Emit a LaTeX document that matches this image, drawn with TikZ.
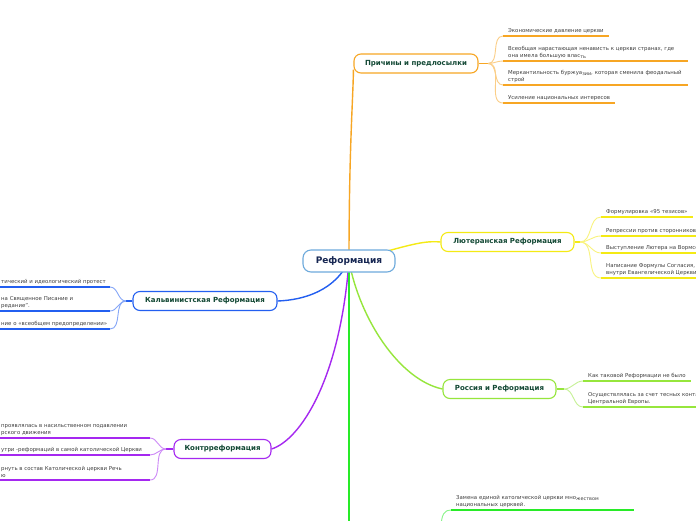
\documentclass[tikz,border=0pt]{standalone}
\usepackage{fontspec}
\setmainfont{DejaVu Sans}
\usetikzlibrary{backgrounds}

\definecolor{corange}{RGB}{247,166,36}
\definecolor{cyellow}{RGB}{244,234,20}
\definecolor{cblue}{RGB}{35,95,240}
\definecolor{cpurple}{RGB}{165,40,240}
\definecolor{clime}{RGB}{150,230,60}
\definecolor{cgreen}{RGB}{40,235,40}
\definecolor{cmain}{RGB}{110,170,220}
\definecolor{ctext}{RGB}{18,72,52}
\definecolor{cnavy}{RGB}{22,38,82}
\definecolor{cleaf}{RGB}{64,64,64}

\newcommand{\lowbit}[1]{\raisebox{-1.2pt}{\fontsize{4.9}{5}\selectfont #1}}

\begin{document}
\begin{tikzpicture}[x=1pt, y=-1pt,
  mtopic/.style={draw=cmain, line width=1.1pt, rounded corners=8pt, fill=white,
    minimum width=92pt, minimum height=22pt, inner sep=0pt,
    font=\fontsize{9}{11}\selectfont\bfseries, text=cnavy},
  btopic/.style={draw=#1, line width=1.1pt, rounded corners=7pt, fill=white,
    minimum height=19pt, inner xsep=6pt, inner ysep=0pt,
    font=\fontsize{7}{9}\selectfont\bfseries, text=ctext},
  leaf/.style={anchor=south west, inner xsep=5pt, inner ysep=2pt, align=left,
    font=\fontsize{5.4}{7}\selectfont, text=cleaf},
  branch/.style={draw=#1, line width=1.4pt},
  twig/.style={draw=#1!55!white, line width=0.9pt},
  uline/.style={draw=#1, line width=1.5pt},
]
  \useasboundingbox (0,0) rectangle (696,520);
  \coordinate (rim) at (696,0);
  \coordinate (lrim) at (-4,0);

  % Central topic and main branches
  \node[mtopic] (R) at (349,261) {Реформация};
  \node[btopic=corange, minimum width=124pt] (P) at (416,63.5) {Причины и предлосылки};
  \node[btopic=cyellow, minimum width=133pt] (L) at (507.5,242) {Лютеранская Реформация};
  \node[btopic=cblue, minimum width=144pt] (K) at (205,301) {Кальвинистская Реформация};
  \node[btopic=cpurple, minimum width=97pt] (C) at (222.5,449) {Контрреформация};
  \node[btopic=clime, minimum width=113pt] (Ru) at (499.5,389) {Россия и Реформация};
  \coordinate (Nb) at (349,530);

  \begin{scope}[on background layer]
    \fill[white] (0,0) rectangle (696,520);
    \draw[branch=corange] (R.center) .. controls (349,150) and (353,100) .. ([yshift=4pt]P.south west);
    \draw[branch=cyellow] (R.center) .. controls (402,248) and (420,240) .. (L.west);
    \draw[branch=cblue] (R.center) .. controls (335,290) and (305,300) .. (K.east);
    \draw[branch=cpurple] (R.center) .. controls (340,380) and (300,440) .. (C.east);
    \draw[branch=clime] (R.center) .. controls (360,320) and (400,380) .. (Ru.west);
    \draw[branch=cgreen] (R.center) -- (Nb);
  \end{scope}

  % Causes
  \coordinate (Pf) at (488,63.5);
  \draw[branch=corange] (P.east) -- (Pf);
  \node[leaf] (P1) at (503,36) {Экономические давление церкви};
  \node[leaf, text width=175pt] (P2) at (503,61) {Всеобщая нарастающая ненависть к церкви странах, где\\она имела большую влас\lowbit{ть}};
  \node[leaf, text width=175pt] (P3) at (503,85) {Меркантильность буржуа\lowbit{зии}, которая сменила феодальный\\строй};
  \node[leaf] (P4) at (503,103) {Усиление национальных интересов};
  \foreach \n in {1,...,4} {
    \draw[twig=corange] (Pf) to[out=0,in=180] (P\n.south west);
    \draw[uline=corange] (P\n.south west) -- (P\n.south east);
  }

  % Lutheran
  \coordinate (Lf) at (580,242);
  \draw[branch=cyellow] (L.east) -- (Lf);
  \node[leaf] (L1) at (601,217) {Формулировка «95 тезисов»};
  \node[leaf] (L2) at (601,236) {Репрессии против сторонников Л};
  \node[leaf] (L3) at (601,253) {Выступление Лютера на Вормсс};
  \node[leaf] (L4) at (601,278) {Написание Формулы Согласия, и\\внутри Евангелической Церкви};
  \foreach \n in {1,...,4} {
    \draw[twig=cyellow] (Lf) to[out=0,in=180] (L\n.south west);
  }
  \draw[uline=cyellow] (L1.south west) -- (L1.south east);
  \foreach \n in {2,3,4} {
    \draw[uline=cyellow] (L\n.south west) -- (L\n.south west -| rim);
  }

  % Russia
  \coordinate (Ruf) at (564,389);
  \draw[branch=clime] (Ru.east) -- (Ruf);
  \node[leaf] (Ru1) at (583,381) {Как таковой Реформации не было};
  \node[leaf] (Ru2) at (583,407) {Осуществлялась за счет тесных конта\\Центральной Европы.};
  \foreach \n in {1,2} {
    \draw[twig=clime] (Ruf) to[out=0,in=180] (Ru\n.south west);
  }
  \draw[uline=clime] (Ru1.south west) -- (Ru1.south east);
  \draw[uline=clime] (Ru2.south west) -- (Ru2.south west -| rim);

  % Calvinist
  \coordinate (Kf) at (126,301);
  \coordinate (Ke1) at (110,287);
  \coordinate (Ke2) at (110,311);
  \coordinate (Ke3) at (110,329);
  \draw[branch=cblue] (K.west) -- (Kf);
  \node[leaf] (K1) at (lrim |- Ke1) {тический и идеологический протест};
  \node[leaf] (K2) at (lrim |- Ke2) {на Священное Писание и\\редание".};
  \node[leaf] (K3) at (lrim |- Ke3) {ние о «всеобщем предопределении»};
  \foreach \n in {1,2,3} {
    \draw[twig=cblue] (Kf) to[out=180,in=0] (Ke\n);
    \draw[uline=cblue] (K\n.south west) -- (Ke\n);
  }

  % Counter-reformation
  \coordinate (Cf) at (166,449);
  \coordinate (Ce1) at (150,438);
  \coordinate (Ce2) at (150,455);
  \coordinate (Ce3) at (150,480);
  \draw[branch=cpurple] (C.west) -- (Cf);
  \node[leaf] (C1) at (lrim |- Ce1) {проявлялась в насильственном подавлении\\рского движения};
  \node[leaf] (C2) at (lrim |- Ce2) {утри -реформаций в самой католической Церкви};
  \node[leaf] (C3) at (lrim |- Ce3) {рнуть в состав Католической церкви Речь\\ю};
  \foreach \n in {1,2,3} {
    \draw[twig=cpurple] (Cf) to[out=180,in=0] (Ce\n);
    \draw[uline=cpurple] (C\n.south west) -- (Ce\n);
  }

  % Bottom leaf of the branch below the frame
  \coordinate (Nl) at (441,530);
  \node[leaf, text width=173pt] (N1) at (451,510) {Замена единой католической церкви мно\lowbit{жеством}\\национальных церквей.};
  \draw[twig=cgreen] (Nl) .. controls (441,513) and (445,510) .. (N1.south west);
  \draw[uline=cgreen] (N1.south west) -- (N1.south east);
\end{tikzpicture}
\end{document}
